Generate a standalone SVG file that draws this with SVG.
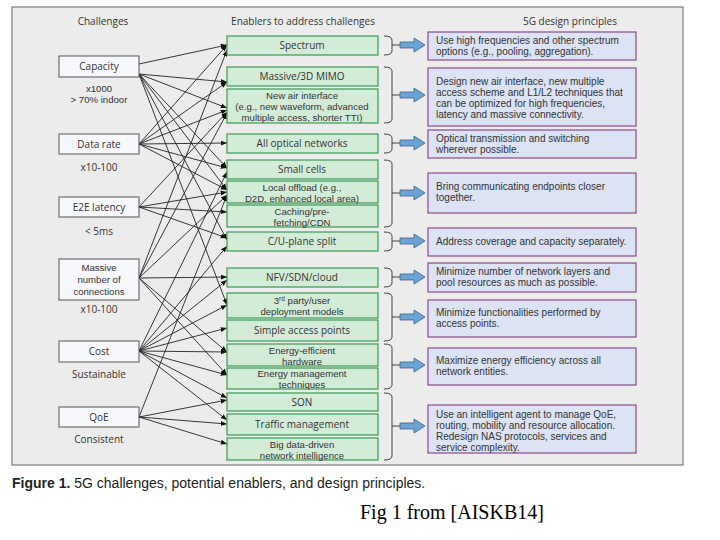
<svg xmlns="http://www.w3.org/2000/svg" width="720" height="540" viewBox="0 0 720 540">
<defs>
<style>
text{font-family:"Open Sans","Liberation Sans",sans-serif;fill:#333;font-size:10px}
.h{font-size:10px;text-anchor:middle}
.c{fill:#f7f8fc;stroke:#555;stroke-width:1}
.e{fill:#d3ecd8;stroke:#3a9a52;stroke-width:1.2}
.p{fill:#dbe3f5;stroke:#8a4a8a;stroke-width:1.2}
.m{text-anchor:middle}
.s{font-family:"Liberation Sans",sans-serif;font-size:9.6px}
.t{font-family:"Liberation Sans",sans-serif;font-size:10px}
.br{fill:none;stroke:#444;stroke-width:1}
.ln line{stroke:#222;stroke-width:0.9}
.ar{fill:#6ea3d6;stroke:#3a5f8a;stroke-width:0.8}
</style>
<marker id="a" viewBox="0 0 10 10" refX="10" refY="5" markerWidth="7" markerHeight="7" orient="auto"><path d="M0,1 L10,5 L0,9 z" fill="#111"/></marker>
</defs>
<rect width="720" height="540" fill="#fff"/>
<rect x="12" y="7" width="671" height="458" fill="#ececec" stroke="#666"/>
<text class="h" x="103" y="25">Challenges</text>
<text class="h" x="303" y="25">Enablers to address challenges</text>
<text class="h" x="570" y="25">5G design principles</text>

<g id="connectors" class="ln">
<line x1="139" y1="64" x2="227" y2="45" marker-end="url(#a)"/>
<line x1="139" y1="74" x2="227" y2="82" marker-end="url(#a)"/>
<line x1="139" y1="74" x2="227" y2="108" marker-end="url(#a)"/>
<line x1="139" y1="74" x2="227" y2="168" marker-end="url(#a)"/>
<line x1="139" y1="74" x2="227" y2="190" marker-end="url(#a)"/>
<line x1="139" y1="74" x2="227" y2="240" marker-end="url(#a)"/>
<line x1="139" y1="74" x2="227" y2="305" marker-end="url(#a)"/>
<line x1="139" y1="144" x2="227" y2="45" marker-end="url(#a)"/>
<line x1="139" y1="144" x2="227" y2="82" marker-end="url(#a)"/>
<line x1="139" y1="144" x2="227" y2="110" marker-end="url(#a)"/>
<line x1="139" y1="144" x2="227" y2="143" marker-end="url(#a)"/>
<line x1="139" y1="144" x2="227" y2="168" marker-end="url(#a)"/>
<line x1="139" y1="144" x2="227" y2="190" marker-end="url(#a)"/>
<line x1="139" y1="207" x2="227" y2="112" marker-end="url(#a)"/>
<line x1="139" y1="207" x2="227" y2="192" marker-end="url(#a)"/>
<line x1="139" y1="207" x2="227" y2="212" marker-end="url(#a)"/>
<line x1="139" y1="207" x2="227" y2="238" marker-end="url(#a)"/>
<line x1="139" y1="278" x2="227" y2="50" marker-end="url(#a)"/>
<line x1="139" y1="278" x2="227" y2="113" marker-end="url(#a)"/>
<line x1="139" y1="278" x2="227" y2="195" marker-end="url(#a)"/>
<line x1="139" y1="278" x2="227" y2="277" marker-end="url(#a)"/>
<line x1="139" y1="278" x2="227" y2="352" marker-end="url(#a)"/>
<line x1="139" y1="278" x2="227" y2="375" marker-end="url(#a)"/>
<line x1="139" y1="351" x2="227" y2="172" marker-end="url(#a)"/>
<line x1="139" y1="351" x2="227" y2="246" marker-end="url(#a)"/>
<line x1="139" y1="351" x2="227" y2="280" marker-end="url(#a)"/>
<line x1="139" y1="351" x2="227" y2="305" marker-end="url(#a)"/>
<line x1="139" y1="351" x2="227" y2="328" marker-end="url(#a)"/>
<line x1="139" y1="351" x2="227" y2="352" marker-end="url(#a)"/>
<line x1="139" y1="351" x2="227" y2="375" marker-end="url(#a)"/>
<line x1="139" y1="351" x2="227" y2="398" marker-end="url(#a)"/>
<line x1="139" y1="351" x2="227" y2="420" marker-end="url(#a)"/>
<line x1="139" y1="417" x2="227" y2="195" marker-end="url(#a)"/>
<line x1="139" y1="417" x2="227" y2="400" marker-end="url(#a)"/>
<line x1="139" y1="417" x2="227" y2="424" marker-end="url(#a)"/>
<line x1="139" y1="417" x2="227" y2="444" marker-end="url(#a)"/>
</g>

<g id="ch-capacity"><rect class="c" x="59" y="56" width="80" height="21"/><text class="m" x="99" y="70">Capacity</text><text class="m s" x="99" y="92">x1000</text><text class="m s" x="99" y="103">&gt; 70% indoor</text></g>
<g id="ch-datarate"><rect class="c" x="59" y="134" width="80" height="20"/><text class="m" x="99" y="148">Data rate</text><text class="m" x="99" y="171">x10-100</text></g>
<g id="ch-latency"><rect class="c" x="59" y="197" width="80" height="20"/><text class="m" x="99" y="211">E2E latency</text><text class="m" x="99" y="235">&lt; 5ms</text></g>
<g id="ch-massive"><rect class="c" x="59" y="259" width="80" height="41"/><text class="m s" x="99" y="271">Massive</text><text class="m s" x="99" y="283">number of</text><text class="m s" x="99" y="295">connections</text><text class="m" x="99" y="313">x10-100</text></g>
<g id="ch-cost"><rect class="c" x="59" y="341" width="80" height="21"/><text class="m" x="99" y="355">Cost</text><text class="m" x="99" y="378">Sustainable</text></g>
<g id="ch-qoe"><rect class="c" x="59" y="407" width="80" height="20"/><text class="m" x="99" y="421">QoE</text><text class="m" x="99" y="443">Consistent</text></g>

<g id="en-spectrum"><rect class="e" x="227" y="36" width="151" height="19"/><text class="m" x="302" y="49">Spectrum</text></g>
<g id="en-mimo"><rect class="e" x="227" y="67" width="151" height="19"/><text class="m" x="302" y="80">Massive/3D MIMO</text></g>
<g id="en-air"><rect class="e" x="227" y="89" width="151" height="34"/><text class="m s" x="302" y="99">New air interface</text><text class="m s" x="302" y="110">(e.g., new waveform, advanced</text><text class="m s" x="302" y="121">multiple access, shorter TTI)</text></g>
<g id="en-optical"><rect class="e" x="227" y="134" width="151" height="19"/><text class="m" x="302" y="147">All optical networks</text></g>
<g id="en-small"><rect class="e" x="227" y="160" width="151" height="19"/><text class="m" x="302" y="173">Small cells</text></g>
<g id="en-offload"><rect class="e" x="227" y="181" width="151" height="22"/><text class="m s" x="302" y="190.5">Local offload (e.g.,</text><text class="m s" x="302" y="201.5">D2D, enhanced local area)</text></g>
<g id="en-caching"><rect class="e" x="227" y="205" width="151" height="22"/><text class="m s" x="302" y="214.5">Caching/pre-</text><text class="m s" x="302" y="225.5">fetching/CDN</text></g>
<g id="en-cu"><rect class="e" x="227" y="232" width="151" height="19"/><text class="m" x="302" y="245">C/U-plane split</text></g>
<g id="en-nfv"><rect class="e" x="227" y="268" width="151" height="19"/><text class="m" x="302" y="281">NFV/SDN/cloud</text></g>
<g id="en-3rd"><rect class="e" x="227" y="293" width="151" height="25"/><text class="m s" x="302" y="304">3<tspan font-size="6.5" dy="-3">rd</tspan><tspan dy="3"> party/user</tspan></text><text class="m s" x="302" y="315">deployment models</text></g>
<g id="en-simple"><rect class="e" x="227" y="320" width="151" height="21"/><text class="m" x="302" y="334">Simple access points</text></g>
<g id="en-eeh"><rect class="e" x="227" y="344" width="151" height="22"/><text class="m s" x="302" y="353.5">Energy-efficient</text><text class="m s" x="302" y="364.5">hardware</text></g>
<g id="en-emt"><rect class="e" x="227" y="368" width="151" height="21"/><text class="m s" x="302" y="377">Energy management</text><text class="m s" x="302" y="388">techniques</text></g>
<g id="en-son"><rect class="e" x="227" y="393" width="151" height="18"/><text class="m" x="302" y="406">SON</text></g>
<g id="en-traffic"><rect class="e" x="227" y="414" width="151" height="21"/><text class="m" x="302" y="428">Traffic management</text></g>
<g id="en-bigdata"><rect class="e" x="227" y="438" width="151" height="22"/><text class="m s" x="302" y="447.5">Big data-driven</text><text class="m s" x="302" y="458.5">network intelligence</text></g>

<g id="braces">
<path class="br" d="M384,36 Q392,36 392,40 V45 H400 M392,45 V51 Q392,55 384,55"/>
<path class="br" d="M384,67 Q392,67 392,71 V95 H400 M392,95 V119 Q392,123 384,123"/>
<path class="br" d="M384,134 Q392,134 392,138 V143 H400 M392,143 V149 Q392,153 384,153"/>
<path class="br" d="M384,160 Q392,160 392,164 V193 H400 M392,193 V223 Q392,227 384,227"/>
<path class="br" d="M384,232 Q392,232 392,236 V241 H400 M392,241 V247 Q392,251 384,251"/>
<path class="br" d="M384,268 Q392,268 392,272 V277 H400 M392,277 V283 Q392,287 384,287"/>
<path class="br" d="M384,293 Q392,293 392,297 V317 H400 M392,317 V337 Q392,341 384,341"/>
<path class="br" d="M384,344 Q392,344 392,348 V365 H400 M392,365 V385 Q392,389 384,389"/>
<path class="br" d="M384,393 Q392,393 392,397 V426 H400 M392,426 V456 Q392,460 384,460"/>
</g>
<g id="fat-arrows">
<path class="ar" d="M400,42 H414 V38 L425,45 L414,52 V48 H400 Z"/>
<path class="ar" d="M400,92 H414 V88 L425,95 L414,102 V98 H400 Z"/>
<path class="ar" d="M400,140 H414 V136 L425,143 L414,150 V146 H400 Z"/>
<path class="ar" d="M400,190 H414 V186 L425,193 L414,200 V196 H400 Z"/>
<path class="ar" d="M400,238 H414 V234 L425,241 L414,248 V244 H400 Z"/>
<path class="ar" d="M400,274 H414 V270 L425,277 L414,284 V280 H400 Z"/>
<path class="ar" d="M400,314 H414 V310 L425,317 L414,324 V320 H400 Z"/>
<path class="ar" d="M400,362 H414 V358 L425,365 L414,372 V368 H400 Z"/>
<path class="ar" d="M400,423 H414 V419 L425,426 L414,433 V429 H400 Z"/>
</g>

<g id="pr1"><rect class="p" x="428" y="32" width="208" height="28"/><text class="t" x="436" y="44">Use high frequencies and other spectrum</text><text class="t" x="436" y="55">options (e.g., pooling, aggregation).</text></g>
<g id="pr2"><rect class="p" x="428" y="68" width="208" height="58"/><text class="t" x="436" y="85">Design new air interface, new multiple</text><text class="t" x="436" y="96">access scheme and L1/L2 techniques that</text><text class="t" x="436" y="107">can be optimized for high frequencies,</text><text class="t" x="436" y="118">latency and massive connectivity.</text></g>
<g id="pr3"><rect class="p" x="428" y="130" width="208" height="28"/><text class="t" x="436" y="142">Optical transmission and switching</text><text class="t" x="436" y="153">wherever possible.</text></g>
<g id="pr4"><rect class="p" x="428" y="173" width="208" height="40"/><text class="t" x="436" y="190">Bring communicating endpoints closer</text><text class="t" x="436" y="201">together.</text></g>
<g id="pr5"><rect class="p" x="428" y="228" width="208" height="28"/><text class="t" x="436" y="245">Address coverage and capacity separately.</text></g>
<g id="pr6"><rect class="p" x="428" y="263" width="208" height="29"/><text class="t" x="436" y="275">Minimize number of network layers and</text><text class="t" x="436" y="286">pool resources as much as possible.</text></g>
<g id="pr7"><rect class="p" x="428" y="300" width="208" height="37"/><text class="t" x="436" y="316">Minimize functionalities performed by</text><text class="t" x="436" y="327">access points.</text></g>
<g id="pr8"><rect class="p" x="428" y="348" width="208" height="37"/><text class="t" x="436" y="364">Maximize energy efficiency across all</text><text class="t" x="436" y="375">network entities.</text></g>
<g id="pr9"><rect class="p" x="428" y="405" width="208" height="48"/><text class="t" x="436" y="418">Use an intelligent agent to manage QoE,</text><text class="t" x="436" y="429">routing, mobility and resource allocation.</text><text class="t" x="436" y="440">Redesign NAS protocols, services and</text><text class="t" x="436" y="451">service complexity.</text></g>

<text x="12" y="488" style="font-family:'Liberation Sans',sans-serif;font-size:14px;fill:#222"><tspan font-weight="bold">Figure 1.</tspan> 5G challenges, potential enablers, and design principles.</text>
<text x="360" y="519" style="font-family:'Liberation Serif',serif;font-size:20px;fill:#000">Fig 1 from [AISKB14]</text>
</svg>
